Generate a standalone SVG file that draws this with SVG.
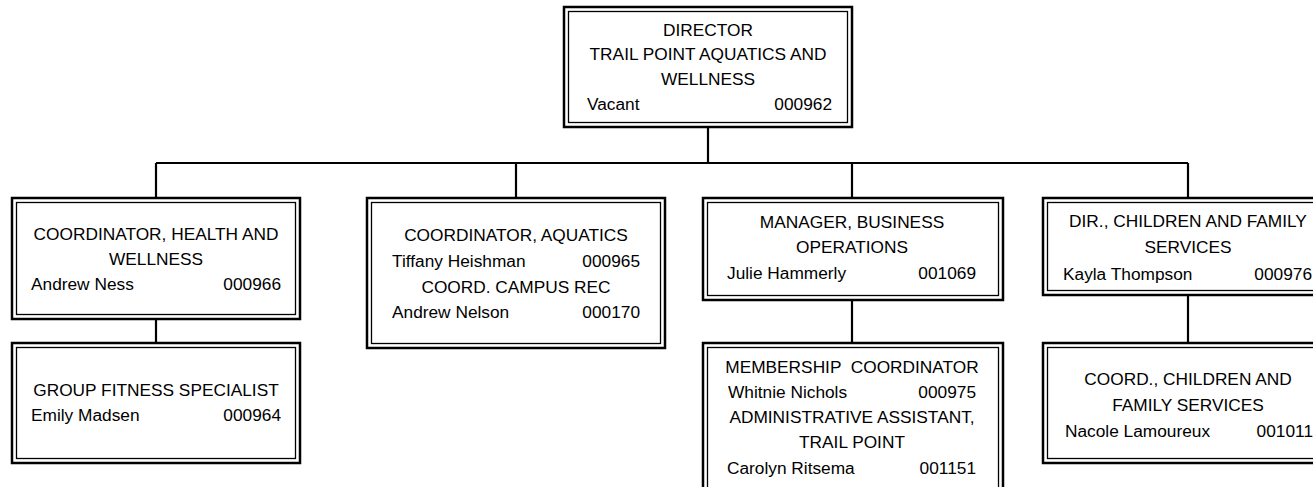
<svg xmlns="http://www.w3.org/2000/svg" width="1313" height="487" viewBox="0 0 1313 487">
<style>
.o{fill:#fff;stroke:#000;stroke-width:2.5}
.i{fill:none;stroke:#000;stroke-width:1.3}
.t{font-family:"Liberation Sans",Arial,sans-serif;font-size:17.3px;fill:#000}
.c{text-anchor:middle}
.r{text-anchor:end}
.ln{stroke:#000;stroke-width:2.2;fill:none}
</style>
<rect width="1313" height="487" fill="#fff"/>
<g id="connectors">
<path class="ln" d="M708 127V163M156 163H1188M156 163V198M516 163V198M852 163V198M1188 163V198M156 319V343M852 300V343M1188 295V343"/>
</g>
<g id="director">
<rect class="o" x="564" y="7" width="288" height="120"/>
<rect class="i" x="568.5" y="11.5" width="279" height="111"/>
<text class="t c" x="708" y="36">DIRECTOR</text>
<text class="t c" x="708" y="60">TRAIL POINT AQUATICS AND</text>
<text class="t c" x="708" y="85">WELLNESS</text>
<text class="t" x="587" y="110">Vacant</text>
<text class="t r" x="832" y="110">000962</text>
</g>
<g id="coord-health">
<rect class="o" x="12" y="198" width="288" height="121"/>
<rect class="i" x="16.5" y="202.5" width="279" height="112"/>
<text class="t c" x="156" y="240">COORDINATOR, HEALTH AND</text>
<text class="t c" x="156" y="265">WELLNESS</text>
<text class="t" x="31" y="290">Andrew Ness</text>
<text class="t r" x="281" y="290">000966</text>
</g>
<g id="group-fitness">
<rect class="o" x="12" y="343" width="288" height="120"/>
<rect class="i" x="16.5" y="347.5" width="279" height="111"/>
<text class="t c" x="156" y="396">GROUP FITNESS SPECIALIST</text>
<text class="t" x="31" y="421">Emily Madsen</text>
<text class="t r" x="281" y="421">000964</text>
</g>
<g id="coord-aquatics">
<rect class="o" x="367" y="198" width="298" height="150"/>
<rect class="i" x="371.5" y="202.5" width="289" height="141"/>
<text class="t c" x="516" y="241">COORDINATOR, AQUATICS</text>
<text class="t" x="392" y="267">Tiffany Heishman</text>
<text class="t r" x="640" y="267">000965</text>
<text class="t c" x="516" y="293">COORD. CAMPUS REC</text>
<text class="t" x="392" y="318">Andrew Nelson</text>
<text class="t r" x="640" y="318">000170</text>
</g>
<g id="manager-business">
<rect class="o" x="703" y="198" width="300" height="102"/>
<rect class="i" x="707.5" y="202.5" width="291" height="93"/>
<text class="t c" x="852" y="228">MANAGER, BUSINESS</text>
<text class="t c" x="852" y="253">OPERATIONS</text>
<text class="t" x="727" y="279">Julie Hammerly</text>
<text class="t r" x="976" y="279">001069</text>
</g>
<g id="membership">
<rect class="o" x="703" y="343" width="300" height="150"/>
<rect class="i" x="707.5" y="347.5" width="291" height="141"/>
<text class="t c" x="852" y="373" xml:space="preserve">MEMBERSHIP  COORDINATOR</text>
<text class="t" x="728" y="398">Whitnie Nichols</text>
<text class="t r" x="976" y="398">000975</text>
<text class="t c" x="852" y="423">ADMINISTRATIVE ASSISTANT,</text>
<text class="t c" x="852" y="448">TRAIL POINT</text>
<text class="t" x="727" y="474">Carolyn Ritsema</text>
<text class="t r" x="976" y="474">001151</text>
</g>
<g id="dir-children">
<rect class="o" x="1043" y="198" width="290" height="97"/>
<rect class="i" x="1047.5" y="202.5" width="281" height="88"/>
<text class="t c" x="1188" y="227">DIR., CHILDREN AND FAMILY</text>
<text class="t c" x="1188" y="253">SERVICES</text>
<text class="t" x="1063" y="280">Kayla Thompson</text>
<text class="t r" x="1312" y="280">000976</text>
</g>
<g id="coord-children">
<rect class="o" x="1043" y="343" width="290" height="120"/>
<rect class="i" x="1047.5" y="347.5" width="281" height="111"/>
<text class="t c" x="1188" y="385">COORD., CHILDREN AND</text>
<text class="t c" x="1188" y="411">FAMILY SERVICES</text>
<text class="t" x="1065" y="437">Nacole Lamoureux</text>
<text class="t r" x="1313" y="437">001011</text>
</g>
</svg>
